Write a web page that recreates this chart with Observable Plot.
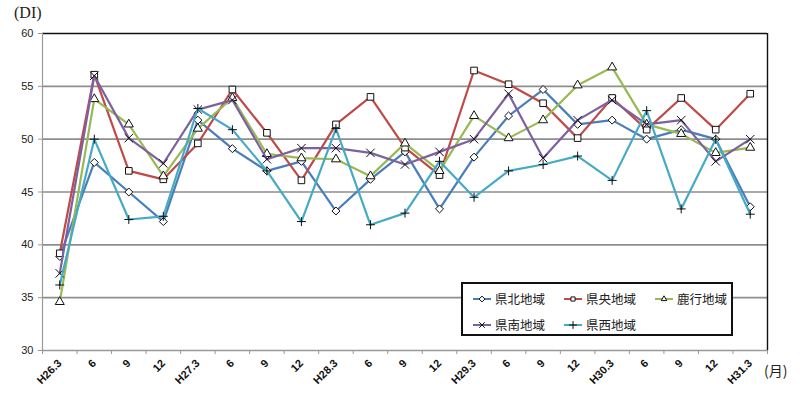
<!DOCTYPE html>
<html><head><meta charset="utf-8">
<script src="https://cdn.jsdelivr.net/npm/d3@7"></script>
<script src="https://cdn.jsdelivr.net/npm/@observablehq/plot@0.6"></script>
<style>
html,body{margin:0;padding:0;background:#fff;}
#wrap{position:relative;width:800px;height:396px;overflow:hidden;font-family:"Liberation Sans",Arial,sans-serif;}
#wrap svg.plot{position:absolute;left:0;top:0;}
.unit{position:absolute;color:#222;}
#legend{position:absolute;left:461px;top:282px;width:268px;height:50px;border:2px solid #111;background:#fff;}
.lg{position:absolute;display:flex;align-items:center;font-family:"Noto Sans CJK JP",sans-serif;font-size:12.5px;color:#222;}
.lg svg{margin-right:3px;}
</style></head><body><div id="wrap"></div>
<script>
const categories = ["H26.3","6","9","12","H27.3","6","9","12","H28.3","6","9","12","H29.3","6","9","12","H30.3","6","9","12","H31.3"];
const yTicks = [30,35,40,45,50,55,60];
const seriesNames = ["県北地域","県央地域","鹿行地域","県南地域","県西地域"];
const kenpoku = [38.9,47.8,45.0,42.2,51.8,49.1,47.0,47.9,43.2,46.2,48.8,43.4,48.3,52.2,54.7,51.4,51.8,50.0,50.9,50.0,43.6];
const kenou   = [39.2,56.1,47.0,46.2,49.6,54.7,50.6,46.1,51.4,54.0,49.2,46.6,56.5,55.2,53.4,50.1,53.9,50.9,53.9,50.9,54.3];
const rokko   = [34.6,53.8,51.4,46.5,51.0,53.9,48.6,48.2,48.1,46.5,49.6,47.0,52.2,50.1,51.8,55.1,56.8,51.4,50.5,48.7,49.2];
const kennan  = [37.3,56.0,50.1,47.7,52.8,53.7,48.1,49.15,49.15,48.7,47.6,48.8,50.0,54.3,48.2,51.8,53.7,51.4,51.8,47.9,50.0];
const kensei  = [36.2,50.0,42.4,42.7,52.9,50.9,47.0,42.2,51.0,41.9,43.0,47.9,44.5,47.0,47.6,48.4,46.1,52.7,43.4,50.0,42.9];
const seriesValues = [kenpoku, kenou, rokko, kennan, kensei];
const seriesColors = ["#4A7EBB","#BE4B48","#98B954","#7D60A0","#46AAC5"];
const seriesSymbols = ["diamond2","square2","triangle2","times","plus"];
const d3Symbols = [d3.symbolDiamond2, d3.symbolSquare2, d3.symbolTriangle2, d3.symbolTimes, d3.symbolPlus];
const seriesR = [3.6,4.2,4.3,3.9,3.0];

const idx = categories.map((_, i) => i);
const edges = [-0.5, ...idx.map(i => i + 0.5)];
const yMin = yTicks[0], yMax = yTicks[yTicks.length - 1];
const xLo = edges[0], xHi = edges[edges.length - 1];

const marks = [
  Plot.gridY(yTicks.filter(v => v > yMin && v < yMax), {stroke:"#8e8e8e", strokeWidth:1.6, strokeOpacity:1}),
  Plot.ruleY([yMax], {stroke:"#111", strokeWidth:1.6}),
  Plot.ruleX([xHi], {stroke:"#111", strokeWidth:1.4}),
  Plot.ruleX([xLo], {stroke:"#999", strokeWidth:1.2}),
  Plot.ruleY([yMin], {stroke:"#999", strokeWidth:1.4}),
  Plot.axisY(yTicks, {tickSize:4, tickPadding:5, fontSize:11, stroke:"#999", fill:"#222", label:null}),
  Plot.axisX(edges, {tickSize:4, text:null, stroke:"#999", label:null}),
  Plot.text(idx, {x:d => d, frameAnchor:"bottom", text:i => categories[i], rotate:-45, textAnchor:"end", lineAnchor:"middle",
    dy:11, fontSize:11, fontWeight:"bold", fill:"#111"})
];
seriesValues.forEach((vals, s) => {
  const data = vals.map((v, i) => ({i, v}));
  marks.push(Plot.line(data, {x:"i", y:"v", stroke:seriesColors[s], strokeWidth:2.2}));
  marks.push(Plot.dot(data, {x:"i", y:"v", symbol:seriesSymbols[s], r:seriesR[s], stroke:"#111", strokeWidth:1,
    fill:(s >= 3 ? "none" : "white")}));
});

const chart = Plot.plot({
  width:800, height:396,
  marginLeft:42, marginRight:33, marginTop:33, marginBottom:46,
  style:{background:"transparent", fontFamily:"'Liberation Sans', Arial, sans-serif", overflow:"visible"},
  x:{type:"linear", domain:[xLo, xHi], axis:null},
  y:{domain:[yMin, yMax], axis:null},
  marks
});
chart.classList.add("plot");
const wrap = document.getElementById("wrap");
wrap.appendChild(chart);

const di = document.createElement("div");
di.className = "unit";
di.textContent = "(DI)";
di.style.cssText = "left:14px;top:4px;font-family:'Liberation Serif',serif;font-size:16px;";
wrap.appendChild(di);
const mo = document.createElement("div");
mo.className = "unit";
mo.textContent = "(月)";
mo.style.cssText = "left:764px;top:360px;font-family:'Noto Sans CJK JP',sans-serif;font-size:14px;";
wrap.appendChild(mo);

const legend = document.createElement("div");
legend.id = "legend";
wrap.appendChild(legend);
const legendPos = [[9,5],[100,5],[191,5],[9,31],[100,31]];
seriesNames.forEach((name, s) => {
  const item = document.createElement("div");
  item.className = "lg";
  item.style.left = legendPos[s][0] + "px";
  item.style.top = legendPos[s][1] + "px";
  const sw = d3.create("svg").attr("width", 20).attr("height", 12);
  sw.append("line").attr("x1",1).attr("x2",19).attr("y1",6).attr("y2",6).attr("stroke",seriesColors[s]).attr("stroke-width",2);
  sw.append("path").attr("d", d3.symbol(d3Symbols[s], 22)()).attr("transform","translate(10,6)")
    .attr("stroke","#111").attr("stroke-width",1).attr("fill", s >= 3 ? "none" : "white");
  item.appendChild(sw.node());
  const t = document.createElement("span");
  t.textContent = name;
  item.appendChild(t);
  legend.appendChild(item);
});
</script>
</body></html>
